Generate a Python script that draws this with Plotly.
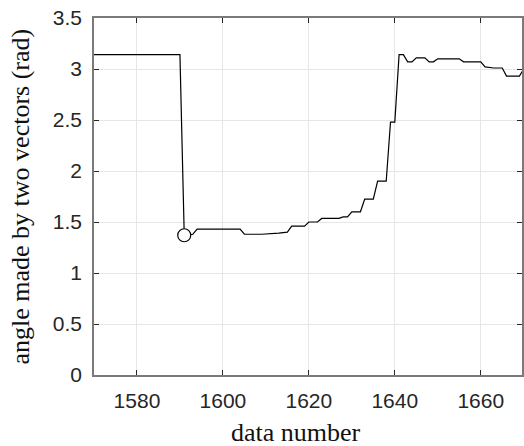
import plotly.graph_objects as go

# data (breakpoints of the stepwise signal)
data_number = [1570, 1590, 1591, 1593, 1594, 1604, 1605, 1609, 1613, 1615, 1616, 1619, 1620,
               1622, 1623, 1627, 1628, 1629, 1630, 1632, 1633, 1635, 1636, 1638, 1639, 1640,
               1641, 1642, 1643, 1644, 1645, 1647, 1648, 1649, 1650, 1655, 1656, 1660, 1661,
               1663, 1665, 1666, 1669, 1670]
angle = [3.14, 3.14, 1.37, 1.38, 1.43, 1.43, 1.38, 1.38, 1.39, 1.40, 1.46, 1.46, 1.50,
         1.50, 1.535, 1.535, 1.55, 1.55, 1.60, 1.60, 1.725, 1.725, 1.90, 1.90, 2.48, 2.48,
         3.14, 3.14, 3.07, 3.07, 3.11, 3.11, 3.07, 3.07, 3.10, 3.10, 3.07, 3.07, 3.02,
         3.01, 3.01, 2.93, 2.93, 3.00]
marker_x = [1591]
marker_y = [1.37]
x_ticks = [1580, 1600, 1620, 1640, 1660]
y_ticks = [0, 0.5, 1, 1.5, 2, 2.5, 3, 3.5]
y_tick_text = ["0", "0.5", "1", "1.5", "2", "2.5", "3", "3.5"]

fig = go.Figure()
fig.add_trace(go.Scatter(x=data_number, y=angle, mode="lines",
                         line=dict(color="black", width=1.2), showlegend=False))
fig.add_trace(go.Scatter(x=marker_x, y=marker_y, mode="markers",
                         marker=dict(symbol="circle", size=13, color="white",
                                     line=dict(color="black", width=1.2)),
                         showlegend=False))

L, T, B = 94, 18, 71
fig.update_layout(
    width=524, height=446,
    margin=dict(l=L, r=0, t=T, b=B, pad=0),
    paper_bgcolor="white", plot_bgcolor="white",
    font=dict(family="Liberation Sans, Arial, sans-serif", size=21, color="#262626"),
    xaxis=dict(range=[1570, 1669.6], tickvals=x_ticks, ticks="inside", ticklen=5,
               tickcolor="#262626", showline=True, linecolor="#7a7a7a", linewidth=1.5,
               mirror="ticks", showgrid=True, gridcolor="#e6e6e6", gridwidth=1,
               zeroline=False, ticklabelstandoff=6),
    yaxis=dict(range=[0, 3.5], tickvals=y_ticks, ticktext=y_tick_text, ticks="inside",
               ticklen=5, tickcolor="#262626", showline=True, linecolor="#7a7a7a",
               linewidth=1.5, mirror="ticks", showgrid=True, gridcolor="#e6e6e6",
               gridwidth=1, zeroline=False, ticklabelstandoff=6),
    annotations=[
        dict(text="data number", xref="paper", yref="paper", x=(297 - L) / 430, y=0,
             yshift=-57, xanchor="center", yanchor="middle", showarrow=False,
             font=dict(family="Liberation Serif, Times New Roman, serif", size=26,
                       color="#111111")),
        dict(text="angle made by two vectors (rad)", xref="paper", yref="paper", x=0,
             xshift=20 - L, y=0.5, xanchor="center", yanchor="middle", textangle=-90,
             showarrow=False,
             font=dict(family="Liberation Serif, Times New Roman, serif", size=26,
                       color="#111111")),
    ],
)

fig.write_html("out.html")
